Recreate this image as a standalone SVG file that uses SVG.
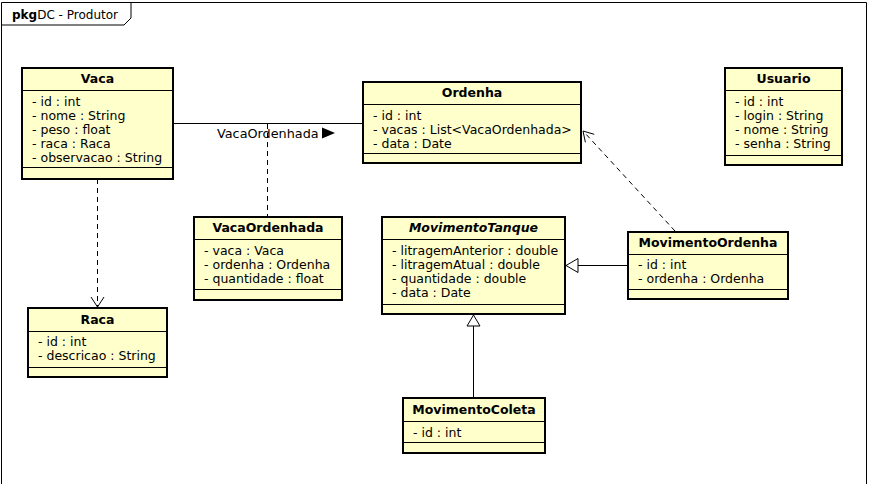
<svg xmlns="http://www.w3.org/2000/svg" width="870" height="484" viewBox="0 0 870 484">
<style>
text{font-family:"DejaVu Sans",Verdana,sans-serif;font-size:12.5px;fill:#000}
.pk{font-size:12px}
.lbl{font-size:12.8px}
.t{font-weight:bold;text-anchor:middle}
.ti{font-weight:bold;font-style:italic;text-anchor:middle}
.box{fill:#ffffcc;stroke:#000;stroke-width:2}
.sep{stroke:#000;stroke-width:1}
.ln{stroke:#000;stroke-width:1;fill:none}
.dash{stroke:#000;stroke-width:1;fill:none;stroke-dasharray:5,4}
.open{stroke:#000;stroke-width:1;fill:none}
.gen{stroke:#000;stroke-width:1;fill:#fff}
</style>
<rect width="870" height="484" fill="#fff"/>
<g id="frame">
<path class="ln" d="M1.5,490 V2.5 H866.5 V490"/>
<path class="ln" d="M1.5,25 H124 L131,18 V2.5"/>
<text class="pk" x="12" y="19"><tspan font-weight="bold">pkg</tspan>DC - Produtor</text>
</g>
<g id="connectors">
<line class="ln" x1="173" y1="123.5" x2="363" y2="123.5"/>
<text class="lbl" x="217" y="138">VacaOrdenhada</text>
<polygon points="322,127.5 335,133 322,138.5" fill="#000"/>
<line class="dash" x1="267.5" y1="124" x2="267.5" y2="217"/>
<line class="dash" x1="97.5" y1="179" x2="97.5" y2="307"/>
<polyline class="open" points="91,297 97.5,307 104,297"/>
<line class="dash" x1="675" y1="231" x2="584" y2="132"/>
<polyline class="open" points="585.4,142.4 583,131 594.2,134.3"/>
<line class="ln" x1="628" y1="265.5" x2="578" y2="265.5"/>
<polygon class="gen" points="566,265.5 578,258.5 578,272.5"/>
<line class="ln" x1="473.5" y1="398" x2="473.5" y2="326"/>
<polygon class="gen" points="473.5,315 467,326 480,326"/>
</g>
<g id="Vaca">
<rect class="box" x="22" y="68" width="151" height="111"/>
<line class="sep" x1="22" y1="90.5" x2="173" y2="90.5"/>
<line class="sep" x1="22" y1="167.5" x2="173" y2="167.5"/>
<text class="t" x="97.5" y="83">Vaca</text>
<text x="32" y="106">- id : int</text>
<text x="32" y="120">- nome : String</text>
<text x="32" y="134">- peso : float</text>
<text x="32" y="148">- raca : Raca</text>
<text x="32" y="162">- observacao : String</text>
</g>
<g id="Ordenha">
<rect class="box" x="363" y="82" width="218" height="81"/>
<line class="sep" x1="363" y1="104.5" x2="581" y2="104.5"/>
<line class="sep" x1="363" y1="153.5" x2="581" y2="153.5"/>
<text class="t" x="472" y="97">Ordenha</text>
<text x="373" y="120">- id : int</text>
<text x="373" y="134">- vacas : List&lt;VacaOrdenhada&gt;</text>
<text x="373" y="148">- data : Date</text>
</g>
<g id="Usuario">
<rect class="box" x="725" y="68" width="117" height="97"/>
<line class="sep" x1="725" y1="90.5" x2="842" y2="90.5"/>
<line class="sep" x1="725" y1="155.5" x2="842" y2="155.5"/>
<text class="t" x="783.5" y="83">Usuario</text>
<text x="735" y="106">- id : int</text>
<text x="735" y="120">- login : String</text>
<text x="735" y="134">- nome : String</text>
<text x="735" y="148">- senha : String</text>
</g>
<g id="VacaOrdenhada">
<rect class="box" x="194" y="217" width="148" height="83"/>
<line class="sep" x1="194" y1="239.5" x2="342" y2="239.5"/>
<line class="sep" x1="194" y1="289.5" x2="342" y2="289.5"/>
<text class="t" x="268" y="232">VacaOrdenhada</text>
<text x="204" y="255">- vaca : Vaca</text>
<text x="204" y="269">- ordenha : Ordenha</text>
<text x="204" y="283">- quantidade : float</text>
</g>
<g id="MovimentoTanque">
<rect class="box" x="382" y="217" width="183" height="97"/>
<line class="sep" x1="382" y1="239.5" x2="565" y2="239.5"/>
<line class="sep" x1="382" y1="304.5" x2="565" y2="304.5"/>
<text class="ti" x="473.5" y="232">MovimentoTanque</text>
<text x="392" y="255">- litragemAnterior : double</text>
<text x="392" y="269">- litragemAtual : double</text>
<text x="392" y="283">- quantidade : double</text>
<text x="392" y="297">- data : Date</text>
</g>
<g id="MovimentoOrdenha">
<rect class="box" x="628" y="232" width="160" height="67"/>
<line class="sep" x1="628" y1="254.5" x2="788" y2="254.5"/>
<line class="sep" x1="628" y1="289.5" x2="788" y2="289.5"/>
<text class="t" x="708" y="247">MovimentoOrdenha</text>
<text x="638" y="269">- id : int</text>
<text x="638" y="283">- ordenha : Ordenha</text>
</g>
<g id="Raca">
<rect class="box" x="28" y="308" width="139" height="69"/>
<line class="sep" x1="28" y1="331.5" x2="167" y2="331.5"/>
<line class="sep" x1="28" y1="367.5" x2="167" y2="367.5"/>
<text class="t" x="97.5" y="324">Raca</text>
<text x="38" y="346">- id : int</text>
<text x="38" y="360">- descricao : String</text>
</g>
<g id="MovimentoColeta">
<rect class="box" x="403" y="398" width="142" height="55"/>
<line class="sep" x1="403" y1="421.5" x2="545" y2="421.5"/>
<line class="sep" x1="403" y1="442.5" x2="545" y2="442.5"/>
<text class="t" x="474" y="414">MovimentoColeta</text>
<text x="413" y="437">- id : int</text>
</g>
</svg>
